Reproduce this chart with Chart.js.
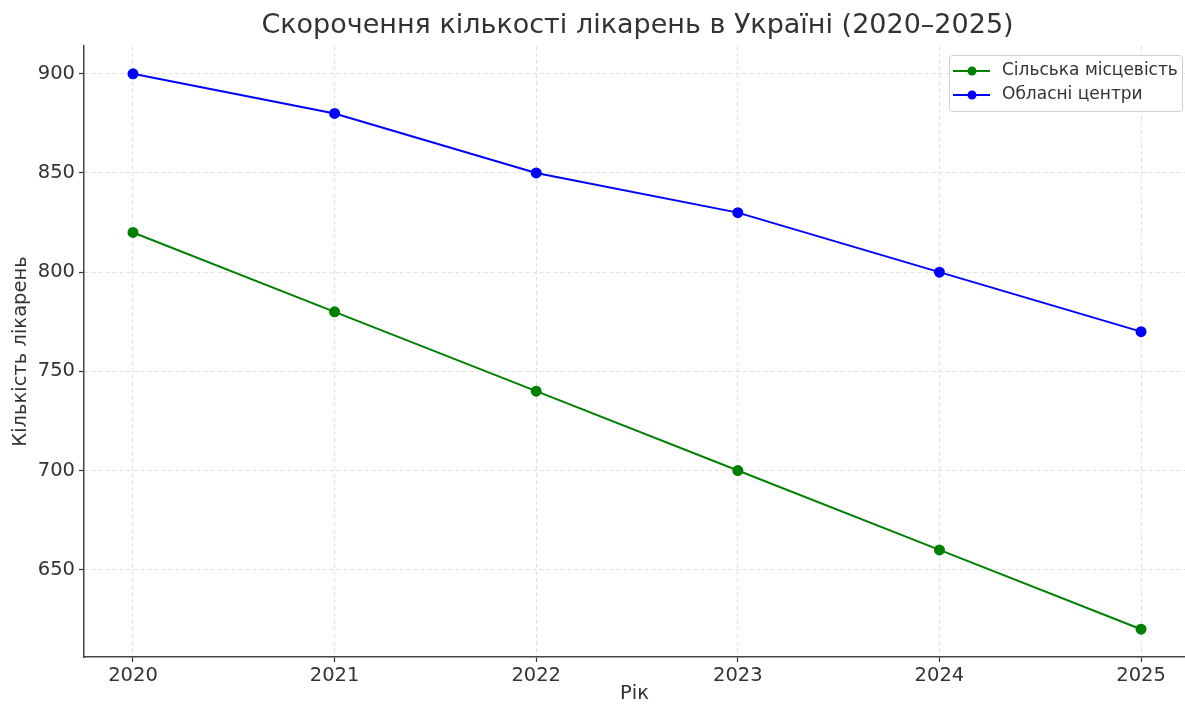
<!DOCTYPE html>
<html>
<head>
<meta charset="utf-8">
<script src="https://cdn.jsdelivr.net/npm/chart.js@4.4.0/dist/chart.umd.min.js"></script>
<style>
  html, body { margin: 0; padding: 0; background: #fff; overflow: hidden; }
  canvas { display: block; }
</style>
</head>
<body>
<canvas id="hospitalChart" width="1185" height="706"></canvas>
<script>
const years = [2020, 2021, 2022, 2023, 2024, 2025];
const ruralValues = [820, 780, 740, 700, 660, 620];
const regionalValues = [900, 880, 850, 830, 800, 770];
const yTicks = [650, 700, 750, 800, 850, 900];
const chartTitle = "Скорочення кількості лікарень в Україні (2020–2025)";

const FONT = "'DejaVu Sans', sans-serif";
const TEXT = "#333";

// title centred over the axes (matplotlib style), not over the canvas
const axesTitle = {
  id: "axesTitle",
  afterDraw(chart) {
    const ctx = chart.ctx;
    const area = chart.chartArea;
    ctx.save();
    ctx.fillStyle = TEXT;
    ctx.font = "27px " + FONT;
    ctx.textAlign = "center";
    ctx.textBaseline = "middle";
    ctx.fillText(chartTitle, (area.left + area.right + 6) / 2, 26);
    ctx.restore();
  }
};

// legend drawn inside the plot, top-right, with a box
const boxLegend = {
  id: "boxLegend",
  afterDraw(chart) {
    const ctx = chart.ctx;
    const x = 949, y = 55, w = 233, h = 56;
    ctx.save();
    ctx.fillStyle = "rgba(255,255,255,0.8)";
    ctx.strokeStyle = "#d0d0d0";
    ctx.lineWidth = 1;
    ctx.beginPath();
    ctx.roundRect(x + 0.5, y + 0.5, w, h, 3);
    ctx.fill();
    ctx.stroke();

    chart.data.datasets.forEach((ds, i) => {
      const ry = 71 + i * 24;
      ctx.strokeStyle = ds.borderColor;
      ctx.lineWidth = 2;
      ctx.beginPath();
      ctx.moveTo(953, ry);
      ctx.lineTo(990, ry);
      ctx.stroke();
      ctx.fillStyle = ds.borderColor;
      ctx.beginPath();
      ctx.arc(972, ry, 4.5, 0, Math.PI * 2);
      ctx.fill();
      ctx.fillStyle = TEXT;
      ctx.font = "17px " + FONT;
      ctx.textBaseline = "middle";
      ctx.fillText(ds.label, 1002, ry);
    });
    ctx.restore();
  }
};

function lineSet(label, data, color) {
  return {
    label,
    data: years.map((yr, i) => ({ x: yr, y: data[i] })),
    borderColor: color,
    backgroundColor: color,
    borderWidth: 2,
    pointRadius: 4.5,
    pointHoverRadius: 4.5,
    tension: 0
  };
}

new Chart(document.getElementById("hospitalChart"), {
  type: "line",
  data: {
    datasets: [
      lineSet("Сільська місцевість", ruralValues, "#008000"),
      lineSet("Обласні центри", regionalValues, "#0000ff")
    ]
  },
  options: {
    responsive: false,
    animation: false,
    layout: { autoPadding: false, padding: { left: 0, right: 0, top: 46, bottom: 0 } },
    plugins: {
      legend: { display: false },
      tooltip: { enabled: false },
      title: { display: false }
    },
    scales: {
      x: {
        type: "linear",
        min: 2019.757,
        max: 2025.218,
        afterBuildTicks: s => { s.ticks = years.map(v => ({ value: v })); },
        afterFit: s => { s.height = 49; s.paddingLeft = 0; s.paddingRight = 0; },
        ticks: {
          color: TEXT,
          font: { family: FONT, size: 19.5 },
          padding: 2,
          callback: v => String(v)
        },
        grid: { color: "#e0e0e0", lineWidth: 1, tickLength: 5, tickColor: "#333", tickWidth: 1.2 },
        border: { color: "#444", width: 1.5, dash: [4, 3] },
        title: {
          display: true,
          text: "Рік",
          color: TEXT,
          font: { family: FONT, size: 19.5 },
          padding: { top: 0, bottom: 0 }
        }
      },
      y: {
        min: 606,
        max: 914,
        afterBuildTicks: s => { s.ticks = yTicks.map(v => ({ value: v })); },
        afterFit: s => { s.width = 84; },
        ticks: {
          color: TEXT,
          font: { family: FONT, size: 19.5 },
          padding: 4
        },
        grid: { color: "#e0e0e0", lineWidth: 1, tickLength: 5, tickColor: "#333", tickWidth: 1.2 },
        border: { color: "#444", width: 1.5, dash: [4, 3] },
        title: {
          display: true,
          text: "Кількість лікарень",
          color: TEXT,
          font: { family: FONT, size: 19.5 },
          padding: { top: 9, bottom: 0 }
        }
      }
    }
  },
  plugins: [axesTitle, boxLegend]
});
</script>
</body>
</html>
